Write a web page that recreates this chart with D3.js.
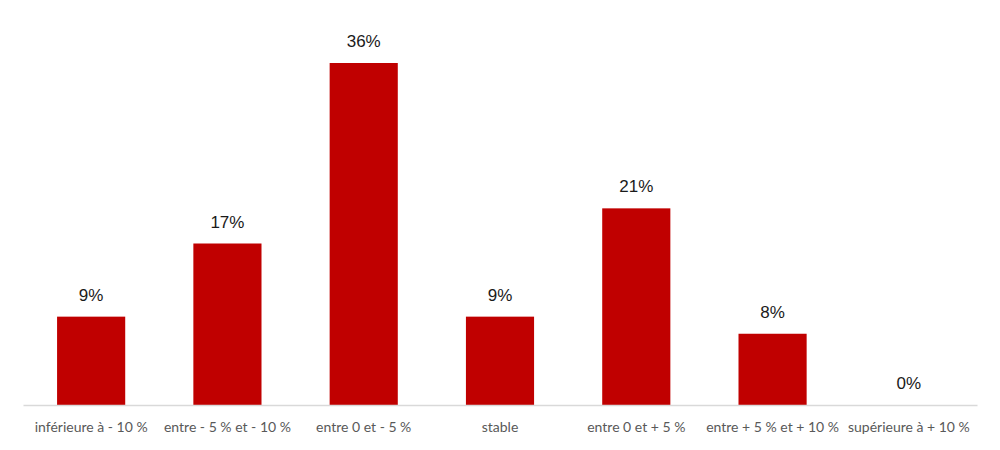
<!DOCTYPE html>
<html>
<head>
<meta charset="utf-8">
<script src="https://cdn.jsdelivr.net/npm/d3@7"></script>
<style>
  html, body { margin: 0; padding: 0; background: #fff; }
  #chart { width: 1000px; height: 450px; }
</style>
</head>
<body>
<div id="chart"></div>
<script>
// Data
const categories = [
  'inférieure à - 10 %',
  'entre - 5 % et - 10 %',
  'entre 0 et - 5 %',
  'stable',
  'entre 0 et + 5 %',
  'entre + 5 % et + 10 %',
  'supérieure à + 10 %'
];
const shares = [0.093, 0.17, 0.36, 0.093, 0.207, 0.075, 0];

const width = 1000;
const height = 450;
const margin = { top: 25, right: 23, bottom: 45, left: 23 };

const svg = d3.select('#chart')
  .append('svg')
  .attr('width', width)
  .attr('height', height);

const x = d3.scaleBand()
  .domain(categories)
  .range([margin.left, width - margin.right])
  .paddingInner(0.5)
  .paddingOuter(0.25);

const y = d3.scaleLinear()
  .domain([0, 0.4])
  .range([height - margin.bottom, margin.top]);

const data = categories.map((c, i) => ({ category: c, value: shares[i] }));

// Bars
svg.selectAll('.bar')
  .data(data)
  .join('rect')
  .attr('class', 'bar')
  .attr('x', d => x(d.category))
  .attr('width', x.bandwidth())
  .attr('y', d => y(d.value))
  .attr('height', d => y(0) - y(d.value))
  .attr('fill', '#c00000');

// Value labels
svg.selectAll('.value')
  .data(data)
  .join('text')
  .attr('class', 'value')
  .attr('x', d => x(d.category) + x.bandwidth() / 2)
  .attr('y', d => y(d.value) - 16)
  .attr('text-anchor', 'middle')
  .attr('fill', '#1a1a1a')
  .style('font-family', '"Liberation Sans", Arial, sans-serif')
  .style('font-size', '17px')
  .text(d => Math.round(d.value * 100) + '%');

// X axis
const xAxis = svg.append('g')
  .attr('transform', `translate(0,${y(0)})`)
  .call(d3.axisBottom(x).tickSize(0).tickPadding(17));

xAxis.select('.domain')
  .attr('stroke', '#d9d9d9')
  .attr('stroke-width', 1.5);

xAxis.selectAll('text')
  .attr('fill', '#595959')
  .style('font-family', 'Lato, sans-serif')
  .style('font-size', '14px');
</script>
</body>
</html>
